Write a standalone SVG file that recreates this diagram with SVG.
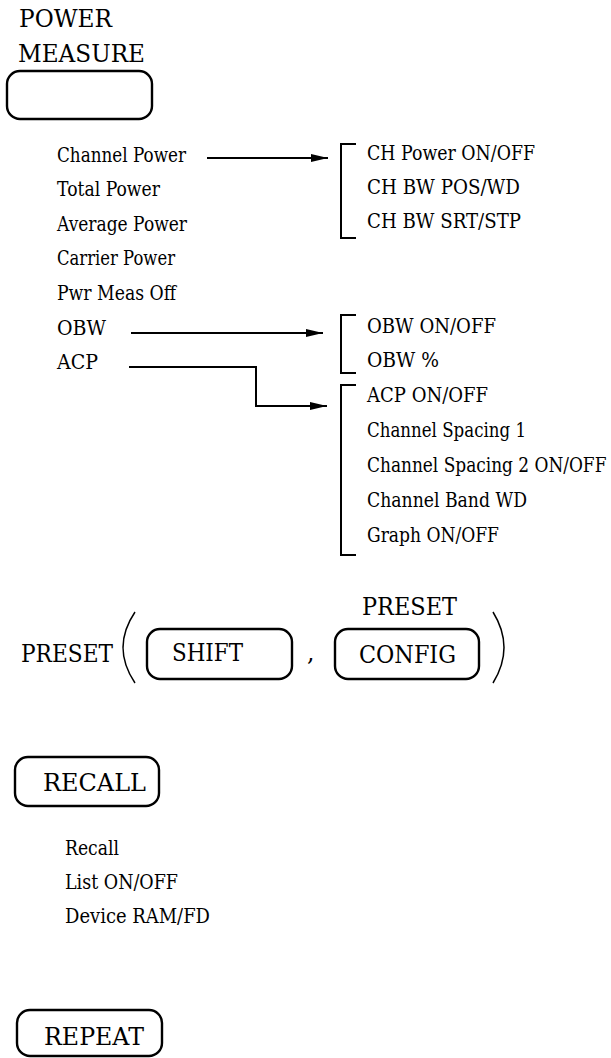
<svg xmlns="http://www.w3.org/2000/svg" width="611" height="1058" viewBox="0 0 611 1058">
<defs>
<style>
text{font-family:'DejaVu Serif','Liberation Serif',serif;fill:#000}
.t{font-size:24.5px}
.k{font-size:23.5px}
.m{font-size:19.5px}
.key{fill:none;stroke:#000;stroke-width:2.4}
.br{fill:none;stroke:#000;stroke-width:2}
.cn{fill:none;stroke:#000;stroke-width:2}
.pa{fill:none;stroke:#000;stroke-width:1.5}
</style>
<marker id="ah" markerUnits="userSpaceOnUse" markerWidth="18" markerHeight="10" refX="17" refY="5" orient="auto">
<path d="M0,1 L17,5 L0,9 Z" fill="#000"/>
</marker>
</defs>
<rect width="611" height="1058" fill="#fff"/>

<g id="power-measure">
<text class="t" x="19" y="27" textLength="93" lengthAdjust="spacingAndGlyphs">POWER</text>
<text class="t" x="18" y="62" textLength="127" lengthAdjust="spacingAndGlyphs">MEASURE</text>
<rect class="key" x="7" y="71" width="145" height="48" rx="13"/>
</g>

<g id="menu-power">
<text class="m" x="57" y="162" textLength="129" lengthAdjust="spacingAndGlyphs">Channel Power</text>
<text class="m" x="57" y="196" textLength="103" lengthAdjust="spacingAndGlyphs">Total Power</text>
<text class="m" x="57" y="231" textLength="130" lengthAdjust="spacingAndGlyphs">Average Power</text>
<text class="m" x="57" y="265" textLength="118" lengthAdjust="spacingAndGlyphs">Carrier Power</text>
<text class="m" x="57" y="300" textLength="119" lengthAdjust="spacingAndGlyphs">Pwr Meas Off</text>
<text class="m" x="57" y="335" textLength="49" lengthAdjust="spacingAndGlyphs">OBW</text>
<text class="m" x="57" y="369" textLength="41" lengthAdjust="spacingAndGlyphs">ACP</text>
</g>

<g id="sub-channel-power">
<path class="br" d="M356,144 H341 V238 H356"/>
<text class="m" x="367" y="160" textLength="168" lengthAdjust="spacingAndGlyphs">CH Power ON/OFF</text>
<text class="m" x="367" y="194" textLength="153" lengthAdjust="spacingAndGlyphs">CH BW POS/WD</text>
<text class="m" x="367" y="228" textLength="154" lengthAdjust="spacingAndGlyphs">CH BW SRT/STP</text>
</g>

<g id="sub-obw">
<path class="br" d="M356,315 H341 V373 H356"/>
<text class="m" x="367" y="333" textLength="129" lengthAdjust="spacingAndGlyphs">OBW ON/OFF</text>
<text class="m" x="367" y="367" textLength="72" lengthAdjust="spacingAndGlyphs">OBW %</text>
</g>

<g id="sub-acp">
<path class="br" d="M356,385 H341 V555 H356"/>
<text class="m" x="367" y="402" textLength="121" lengthAdjust="spacingAndGlyphs">ACP ON/OFF</text>
<text class="m" x="367" y="437" textLength="159" lengthAdjust="spacingAndGlyphs">Channel Spacing 1</text>
<text class="m" transform="translate(367,472) scale(0.87,1)" x="0" y="0">Channel Spacing 2 ON/OFF</text>
<text class="m" x="367" y="507" textLength="160" lengthAdjust="spacingAndGlyphs">Channel Band WD</text>
<text class="m" x="367" y="542" textLength="132" lengthAdjust="spacingAndGlyphs">Graph ON/OFF</text>
</g>

<g id="connectors">
<path class="cn" d="M207,158 H328" marker-end="url(#ah)"/>
<path class="cn" d="M131,333 H323" marker-end="url(#ah)"/>
<path class="cn" d="M129,367 H256 V406 H327" marker-end="url(#ah)"/>
</g>

<g id="preset">
<text class="k" x="21" y="662" textLength="92" lengthAdjust="spacingAndGlyphs">PRESET</text>
<path class="pa" d="M135,612 Q111,647.5 135,683"/>
<text class="k" x="307" y="661">,</text>
<path class="pa" d="M493,612 Q515,647.5 493,683"/>
</g>

<g id="shift-key">
<rect class="key" x="147" y="629" width="145" height="50" rx="13"/>
<text class="k" x="172" y="661" textLength="71" lengthAdjust="spacingAndGlyphs">SHIFT</text>
</g>

<g id="config-key">
<text class="k" x="362" y="615" textLength="95" lengthAdjust="spacingAndGlyphs">PRESET</text>
<rect class="key" x="335" y="629" width="144" height="50" rx="13"/>
<text class="k" x="359" y="663" textLength="97" lengthAdjust="spacingAndGlyphs">CONFIG</text>
</g>

<g id="recall-key">
<rect class="key" x="15" y="757" width="144" height="49" rx="13"/>
<text class="k" x="43" y="791" textLength="103" lengthAdjust="spacingAndGlyphs">RECALL</text>
</g>

<g id="menu-recall">
<text class="m" x="65" y="855" textLength="54" lengthAdjust="spacingAndGlyphs">Recall</text>
<text class="m" x="65" y="889" textLength="113" lengthAdjust="spacingAndGlyphs">List ON/OFF</text>
<text class="m" x="65" y="923" textLength="145" lengthAdjust="spacingAndGlyphs">Device RAM/FD</text>
</g>

<g id="repeat-key">
<rect class="key" x="17" y="1010" width="145" height="46" rx="13"/>
<text class="k" x="44" y="1045" textLength="100" lengthAdjust="spacingAndGlyphs">REPEAT</text>
</g>
</svg>
